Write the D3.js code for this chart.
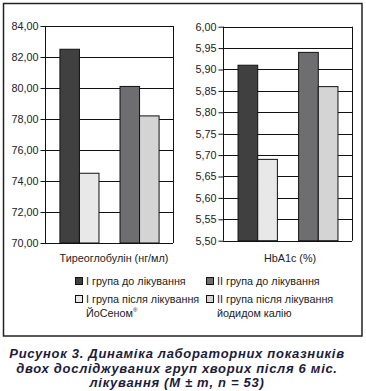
<!DOCTYPE html>
<html><head><meta charset="utf-8">
<script src="https://cdn.jsdelivr.net/npm/d3@7"></script>
<style>
body{margin:0;background:#fff;}
svg{display:block;font-family:"Liberation Sans",Arial,sans-serif;}
</style></head>
<body><svg id="c" width="366" height="391"></svg>
<script>
const groups = ["I", "II"];
const phases = ["before", "after"];
const thyroglobulin = [82.5, 74.5, 80.1, 78.2]; // I before, I after, II before, II after
const hba1c = [5.91, 5.69, 5.94, 5.86];
const thyTicks = [70, 72, 74, 76, 78, 80, 82, 84];
const hbTicks = [5.50, 5.55, 5.60, 5.65, 5.70, 5.75, 5.80, 5.85, 5.90, 5.95, 6.00];
const seriesColors = ["#404040", "#e8e8e8", "#6e6e70", "#d4d4d4"];
const legendLabels = [
  ["І група до лікування"],
  ["ІІ група до лікування"],
  ["І група після лікування", "ЙоСеном®"],
  ["ІІ група після лікування", "йодидом калію"]
];
const axisTitles = ["Тиреоглобулін (нг/мл)", "HbA1c (%)"];
const captionLines = [
  "Рисунок 3. Динаміка лабораторних показників",
  "двох досліджуваних груп хворих після 6 міс.",
  "лікування (M ± m, n = 53)"
];

const svg = d3.select("#c");
svg.append("rect").attr("x", 3.5).attr("y", 3.5).attr("width", 358.5).attr("height", 332.5)
  .attr("fill", "#fff").attr("stroke", "#222").attr("stroke-width", 1.5);

const fmt = d => d.toFixed(2).replace(".", ",");

function panel(x0, x1, yTop, yBot, domain, ticks, values, title, titleX) {
  const g = svg.append("g");
  const y = d3.scaleLinear().domain(domain).range([yBot, yTop]);
  const xb = d3.scaleBand().domain(groups).range([x0, x1]).paddingInner(0.35).paddingOuter(0.24);
  const xs = d3.scaleBand().domain(phases).range([0, xb.bandwidth()]);
  g.selectAll("line.grid").data(ticks).join("line")
    .attr("x1", x0).attr("x2", x1)
    .attr("y1", d => Math.round(y(d)) + 0.5).attr("y2", d => Math.round(y(d)) + 0.5)
    .attr("stroke", "#111").attr("stroke-width", 1);
  g.append("line").attr("x1", x1 + 0.5).attr("x2", x1 + 0.5).attr("y1", yTop).attr("y2", yBot)
    .attr("stroke", "#111");
  const data = [];
  groups.forEach((gr, i) => phases.forEach((ph, j) => data.push({gr, ph, v: values[i * 2 + j], c: seriesColors[i * 2 + j]})));
  g.selectAll("rect.bar").data(data).join("rect")
    .attr("x", d => xb(d.gr) + xs(d.ph) + 0.5)
    .attr("width", xs.bandwidth())
    .attr("y", d => y(d.v))
    .attr("height", d => y(domain[0]) - y(d.v))
    .attr("fill", d => d.c).attr("stroke", "#111").attr("stroke-width", 1);
  const ax = g.append("g").attr("transform", `translate(${x0 + 0.5},0)`)
    .call(d3.axisLeft(y).tickValues(ticks).tickFormat(fmt).tickSize(5).tickPadding(2));
  ax.select(".domain").attr("d", `M0,${yTop}V${yBot}`).attr("stroke", "#111");
  ax.selectAll(".tick line").attr("stroke", "#111");
  ax.selectAll("text").attr("font-size", 10.8).attr("fill", "#222")
    .attr("font-family", '"Liberation Sans",Arial,sans-serif');
  g.append("text").attr("x", titleX).attr("y", 262).attr("text-anchor", "middle")
    .attr("font-size", 10.8).attr("fill", "#222").text(title);
}

panel(45, 173, 26, 243, [70, 84], thyTicks, thyroglobulin, axisTitles[0], 114);
panel(223, 352, 26.7, 240.7, [5.5, 6.0], hbTicks, hba1c, axisTitles[1], 290);

const legPos = [[75, 281], [206, 281], [75, 299], [206, 299]];
const legendOrder = [0, 2, 1, 3];
legendLabels.forEach((lines, i) => {
  const [lx, ly] = legPos[i];
  const color = seriesColors[legendOrder[i]];
  svg.append("rect").attr("x", lx + 0.5).attr("y", ly - 3.5).attr("width", 7).attr("height", 7)
    .attr("fill", color).attr("stroke", "#111").attr("stroke-width", 1);
  lines.forEach((t, k) => {
    const tx = svg.append("text").attr("x", lx + 11).attr("y", ly + 4 + k * 14)
      .attr("font-size", 10.8).attr("fill", "#222");
    if (t.endsWith("®")) {
      tx.text(t.slice(0, -1));
      tx.append("tspan").attr("font-size", 6).attr("dy", -5).text("®");
    } else tx.text(t);
  });
});

captionLines.forEach((t, i) => {
  svg.append("text").attr("x", 177).attr("y", 358 + i * 14.6).attr("text-anchor", "middle")
    .attr("font-size", 13).attr("font-weight", "bold").attr("font-style", "italic")
    .attr("letter-spacing", 0.7)
    .attr("fill", "#1c1c3a").text(t);
});
</script></body></html>
